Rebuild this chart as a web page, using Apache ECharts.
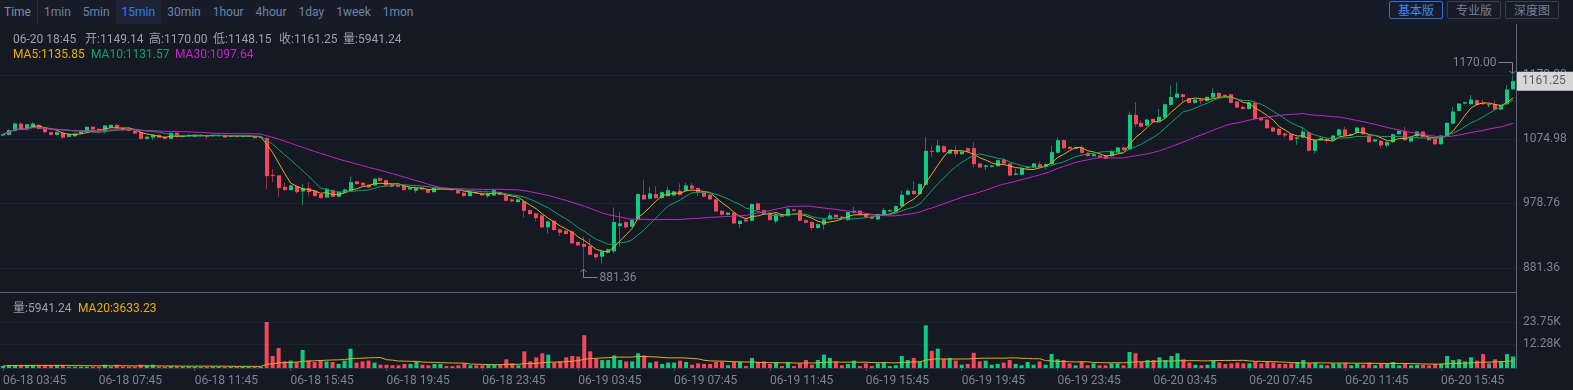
<!DOCTYPE html>
<html><head><meta charset="utf-8">
<script src="https://cdn.jsdelivr.net/npm/echarts@6/dist/echarts.min.js"></script>
<style>
html,body{margin:0;padding:0;background:#151924;overflow:hidden;}
#wrap{position:relative;width:1573px;height:390px;}
#c{position:absolute;left:0;top:0;width:1573px;height:390px;}
#tb{position:absolute;left:0;top:0;width:1573px;height:24px;background:#181c28;display:flex;align-items:stretch;font:12px Roboto,"Noto Sans CJK SC",sans-serif;z-index:2;}
#tb span{padding:0 6px;line-height:24px;color:#6c84a6;}
#tb span.first{padding-left:4px;color:#848c9c;}
#tb span.on{color:#2f7cf6;background:#1f2536;}
#tb i{display:block;width:1px;background:#272c3b;}
.btn{position:absolute;top:1px;height:16px;width:52px;border:1px solid #363e51;border-radius:2px;color:#76808f;font:12px "Noto Sans CJK SC",sans-serif;line-height:16px;text-align:center;z-index:3;}
.btn.on{border-color:#2c6fd8;color:#3b87ff;}
</style>
</head><body>
<div id="wrap">
<div id="c"></div>
<div id="tb"></div>
<div class="btn on" style="left:1389px">基本版</div>
<div class="btn" style="left:1447px">专业版</div>
<div class="btn" style="left:1505px">深度图</div>
</div>
<script>
// ---------------- data ----------------
const periods = ["Time","1min","5min","15min","30min","1hour","4hour","1day","1week","1mon"];
const activePeriod = "15min";
const startTime = "06-18 03:45"; // first bar, 15-minute bars

const opens = [
1079.9,1080.9,1086.9,1097.8,1088.9,1092.9,1095.8,1090.9,1084.9,1080.9,
1083.9,1077.9,1078.9,1082.9,1085.9,1092.9,1089.9,1085.9,1091.9,1095.8,
1090.9,1089.9,1086.9,1084.9,1075.0,1076.9,1080.9,1077.9,1075.0,1083.9,
1077.9,1078.9,1077.9,1078.9,1079.9,1078.9,1078.9,1080.9,1077.9,1079.9,
1077.9,1078.9,1078.9,1076.9,1076.0,1021.2,1020.2,1003.3,998.3,1004.3,
996.3,1001.3,997.3,992.3,987.3,998.3,988.3,994.3,997.3,1011.2,
1009.3,1006.3,1005.3,1016.2,1013.2,1007.3,1006.3,1005.3,999.3,997.3,
1002.3,999.3,995.3,1000.3,1001.8,1000.3,998.3,994.3,989.3,995.3,
993.3,989.3,990.3,995.3,990.3,984.4,980.4,981.4,968.4,963.5,
960.5,942.6,952.5,939.6,937.6,936.6,920.7,917.7,914.7,902.7,
898.8,904.7,906.7,944.5,950.5,943.6,953.5,991.3,985.4,992.3,
986.4,989.3,990.3,997.3,997.3,1005.3,1001.3,994.3,991.3,984.4,
967.4,961.5,964.5,947.5,954.5,952.5,978.4,968.4,964.5,951.5,
962.5,959.5,969.4,968.4,953.5,950.5,941.6,946.5,954.5,961.5,
958.5,953.5,964.5,967.4,962.5,958.5,954.5,961.5,966.4,966.4,
974.4,991.3,997.3,992.3,1006.3,1057.0,1055.0,1064.0,1053.0,1057.0,
1052.0,1061.0,1061.0,1038.1,1033.1,1033.1,1034.1,1044.1,1038.1,1021.2,
1021.2,1031.1,1032.1,1037.1,1033.1,1037.1,1054.0,1073.0,1063.0,1060.0,
1062.0,1054.0,1049.1,1050.1,1050.1,1049.1,1055.0,1062.0,1059.0,1110.8,
1098.8,1094.9,1104.8,1100.8,1106.8,1125.7,1136.7,1141.6,1135.7,1128.7,
1133.7,1131.7,1136.7,1143.6,1140.6,1141.6,1130.7,1122.7,1119.7,1128.7,
1106.8,1103.8,1091.9,1089.9,1082.9,1081.9,1075.0,1076.9,1084.9,1057.0,
1073.0,1075.0,1073.0,1079.9,1088.9,1079.9,1083.9,1091.9,1078.9,1071.0,
1072.0,1065.0,1070.0,1081.9,1086.9,1071.0,1078.9,1085.9,1076.9,1075.0,
1067.0,1078.9,1097.8,1116.7,1127.7,1126.7,1132.7,1128.7,1126.7,1126.7,
1118.7,1126.7,1149.14];

const closes = [
1081.9,1087.9,1097.8,1088.9,1096.8,1097.8,1089.9,1084.9,1080.9,1084.9,
1076.9,1081.9,1082.9,1085.9,1092.9,1088.9,1085.9,1094.9,1095.8,1090.9,
1087.9,1086.9,1082.9,1075.0,1077.9,1080.9,1076.9,1075.0,1083.9,1077.9,
1079.9,1080.9,1079.9,1080.9,1077.9,1080.9,1080.9,1076.9,1079.9,1077.9,
1079.9,1079.9,1076.0,1077.9,1019.2,1020.2,1001.3,998.3,1005.3,995.3,
1001.3,995.3,989.3,986.4,1000.3,988.3,995.3,999.3,1010.2,1007.3,
1005.3,1002.3,1015.2,1012.2,1005.3,1003.3,1003.3,998.3,1002.3,1001.3,
999.3,994.3,1001.3,1002.3,1000.3,998.3,993.3,989.3,996.3,993.3,
990.3,993.3,998.3,991.3,982.4,981.4,984.4,967.4,962.5,956.5,
942.6,951.5,938.6,934.6,932.6,918.7,915.7,913.7,901.7,897.8,
906.7,909.7,950.5,948.5,942.6,953.5,992.3,984.4,993.3,986.4,
995.3,998.3,996.3,991.3,1005.3,1000.3,995.3,988.3,984.4,966.4,
961.5,964.5,948.5,952.5,951.5,977.4,968.4,962.5,953.5,962.5,
958.5,970.4,967.4,952.5,949.5,941.6,947.5,954.5,960.5,957.5,
955.5,965.5,967.4,961.5,957.5,955.5,962.5,968.4,968.4,974.4,
991.3,997.3,992.3,1007.3,1057.0,1056.0,1065.0,1055.0,1058.0,1052.0,
1056.0,1056.0,1037.1,1032.1,1035.1,1035.1,1043.1,1038.1,1020.2,1023.2,
1031.1,1033.1,1038.1,1032.1,1037.1,1055.0,1073.0,1061.0,1060.0,1062.0,
1054.0,1049.1,1052.0,1047.1,1045.1,1057.0,1062.0,1058.0,1110.8,1096.8,
1092.9,1103.8,1099.8,1107.8,1126.7,1137.6,1142.6,1137.6,1128.7,1133.7,
1131.7,1137.6,1143.6,1137.6,1139.6,1128.7,1121.7,1119.7,1129.7,1104.8,
1102.8,1090.9,1085.9,1080.9,1079.9,1073.0,1076.9,1085.9,1057.0,1073.0,
1076.0,1072.0,1079.9,1088.9,1079.9,1081.9,1091.9,1081.9,1070.0,1074.0,
1065.0,1070.0,1081.9,1086.9,1073.0,1077.9,1085.9,1077.9,1073.0,1067.0,
1079.9,1098.8,1115.8,1127.7,1129.7,1133.7,1125.7,1126.7,1126.7,1118.7,
1125.7,1148.6,1161.25];

const lows = [
1078.9,1079.9,1085.9,1087.9,1087.9,1091.9,1088.9,1083.9,1079.9,1079.9,
1075.0,1076.9,1077.9,1081.9,1084.9,1087.9,1084.9,1082.9,1090.9,1089.9,
1086.9,1085.9,1081.9,1074.0,1074.0,1073.0,1075.9,1074.0,1074.0,1076.9,
1076.9,1077.9,1076.9,1077.9,1074.0,1078.4,1078.4,1076.4,1077.4,1077.4,
1077.4,1078.4,1075.5,1076.4,1000.3,1010.2,988.3,997.3,997.3,993.3,
975.4,989.3,988.3,985.4,986.4,987.3,987.3,993.3,996.3,1006.3,
1004.3,1001.3,1004.3,1011.2,1004.3,1002.3,1002.3,997.3,998.3,994.3,
998.3,993.3,994.3,999.3,999.3,997.3,992.3,988.3,988.3,992.3,
989.3,986.4,989.3,990.3,981.4,980.4,979.4,957.5,961.5,951.5,
941.6,933.6,937.6,929.6,931.6,917.7,914.7,881.36,900.7,894.8,
888.8,903.7,903.7,913.7,941.6,942.6,952.5,983.4,984.4,985.4,
985.4,988.3,989.3,990.3,996.3,999.3,989.3,987.3,983.4,965.5,
960.5,960.5,947.5,941.6,950.5,951.5,967.4,961.5,952.5,948.5,
957.5,958.5,966.4,951.5,948.5,937.6,940.6,939.6,953.5,956.5,
954.5,952.5,963.5,960.5,956.5,954.5,953.5,960.5,965.5,965.5,
973.4,990.3,991.3,991.3,1005.3,1047.1,1054.0,1054.0,1052.0,1048.1,
1051.0,1055.0,1032.1,1031.1,1028.2,1032.1,1033.1,1037.1,1019.2,1020.2,
1020.2,1030.1,1031.1,1031.1,1029.2,1036.1,1053.0,1060.0,1059.0,1059.0,
1053.0,1048.1,1048.1,1046.1,1044.1,1048.1,1054.0,1057.0,1058.0,1092.9,
1091.9,1093.9,1098.8,1099.8,1105.8,1124.7,1135.7,1130.7,1127.7,1127.7,
1126.7,1130.7,1135.7,1136.7,1138.6,1127.7,1120.7,1118.7,1118.7,1103.8,
1101.8,1089.9,1084.9,1079.9,1076.9,1072.0,1066.0,1075.9,1056.0,1053.0,
1072.0,1068.0,1072.0,1078.9,1078.9,1078.9,1082.9,1080.9,1069.0,1070.0,
1061.0,1062.0,1069.0,1080.9,1072.0,1070.0,1077.9,1076.9,1072.0,1066.0,
1066.0,1077.9,1096.8,1115.8,1126.7,1125.7,1124.7,1125.7,1122.7,1117.7,
1117.7,1125.7,1148.15];

const highs = [
1082.4,1088.9,1099.3,1099.8,1097.8,1099.8,1097.3,1091.9,1085.9,1085.9,
1084.9,1082.9,1083.9,1086.9,1093.9,1094.4,1090.9,1095.8,1096.8,1097.3,
1091.9,1090.9,1087.9,1085.9,1078.9,1081.9,1081.9,1078.9,1084.9,1084.9,
1080.9,1081.9,1080.9,1081.9,1080.9,1081.4,1081.4,1081.4,1080.4,1080.4,
1080.4,1080.4,1079.4,1078.9,1077.9,1029.6,1021.2,1009.3,1006.3,1005.3,
1007.3,1010.2,998.3,993.3,1001.3,999.3,996.3,1000.3,1018.2,1012.2,
1010.2,1007.3,1016.2,1017.2,1014.2,1008.3,1007.3,1006.3,1003.3,1002.3,
1003.3,1000.3,1002.3,1003.3,1002.8,1001.3,999.3,995.3,997.3,996.3,
994.3,994.3,999.3,996.3,991.3,985.4,985.4,982.4,969.4,964.5,
961.5,952.5,953.5,940.6,938.6,937.6,921.7,928.6,925.6,903.7,
907.7,910.7,972.4,965.5,951.5,954.5,993.3,1014.2,1003.3,1004.3,
996.3,1003.3,997.3,1008.3,1009.3,1009.3,1002.3,995.3,992.3,985.4,
968.4,965.5,965.5,953.5,955.5,978.4,979.4,969.4,965.5,963.5,
963.5,971.4,970.4,969.4,954.5,951.5,948.5,955.5,965.5,962.5,
959.5,966.5,973.4,968.4,963.5,959.5,963.5,971.4,969.4,975.4,
997.3,1000.3,1011.2,1008.3,1077.9,1065.0,1073.0,1065.0,1059.0,1065.0,
1057.0,1062.0,1070.0,1039.1,1036.1,1036.1,1044.1,1047.1,1039.1,1030.1,
1032.1,1034.1,1039.1,1041.1,1038.1,1065.0,1076.9,1074.0,1064.0,1063.0,
1066.0,1055.0,1053.0,1051.0,1051.0,1058.0,1063.0,1063.0,1115.8,1129.7,
1102.8,1104.8,1105.8,1119.7,1127.7,1154.6,1159.6,1142.6,1136.7,1134.7,
1134.7,1138.6,1150.6,1144.6,1141.6,1142.6,1131.7,1123.7,1130.7,1132.7,
1107.8,1104.8,1092.9,1090.9,1083.9,1082.9,1077.9,1092.9,1085.9,1074.0,
1077.0,1076.0,1080.9,1089.9,1092.9,1082.9,1092.9,1092.9,1079.9,1075.0,
1073.0,1071.0,1082.9,1087.9,1092.9,1078.9,1086.9,1086.9,1077.9,1076.0,
1080.9,1099.8,1122.7,1128.7,1130.7,1140.6,1133.7,1133.7,1127.7,1132.7,
1126.7,1155.6,1170.00];

// volume in thousands
const volumes = [
1.0,1.4,1.4,1.4,1.4,1.4,1.4,1.4,1.4,1.4,
1.4,0.7,0.7,0.7,0.7,0.7,0.7,1.7,0.7,1.7,
0.7,0.7,0.7,1.7,1.4,1.7,0.7,0.7,1.0,1.0,
0.7,0.7,0.7,0.7,0.7,0.7,0.7,0.7,0.7,0.7,
0.7,0.7,0.7,0.7,23.75,6.2,10.3,3.4,3.8,3.1,
9.3,3.8,3.1,4.1,3.4,3.1,2.1,3.8,10.0,2.8,
3.4,3.8,2.8,1.7,1.7,1.4,1.4,2.1,2.1,3.1,
1.7,1.4,2.1,2.1,1.0,1.0,1.4,2.4,1.4,1.4,
1.4,1.7,1.7,1.7,4.5,2.4,1.4,8.6,3.4,5.5,
7.6,6.9,2.8,3.4,5.5,6.2,5.9,16.9,8.6,4.8,
4.1,4.1,6.5,4.1,3.4,3.4,7.6,6.5,2.8,3.4,
2.1,2.8,2.8,3.8,3.1,1.7,2.4,2.1,2.1,3.1,
3.1,1.4,3.1,3.1,1.0,5.2,3.1,3.4,2.1,3.1,
1.0,3.1,1.0,2.4,4.1,1.7,4.1,6.9,5.2,3.4,
1.4,2.1,3.8,1.0,2.4,1.0,2.4,3.1,1.0,1.4,
6.2,4.1,5.2,3.1,22.0,8.9,10.0,4.8,5.2,3.8,
1.7,2.1,7.9,3.4,3.8,1.7,2.1,2.8,4.1,2.1,
1.4,3.1,1.7,3.4,1.7,7.2,4.5,4.1,2.4,1.4,
3.4,1.4,2.4,1.4,1.4,2.4,2.4,1.4,8.3,7.6,
3.1,4.1,4.1,5.5,4.1,6.2,7.6,4.5,2.8,1.7,
1.4,1.7,4.1,2.8,2.1,2.4,2.8,2.4,2.4,3.1,
2.4,3.1,2.8,2.1,2.1,2.4,3.1,4.1,2.4,2.8,
1.7,1.4,2.4,2.4,2.8,1.4,2.4,1.7,2.8,1.4,
2.1,2.4,3.1,1.4,2.4,1.4,1.7,1.7,1.4,2.1,
2.1,6.2,4.1,4.5,3.4,5.5,3.8,7.2,2.4,4.5,
3.4,7.2,5.94124];

const priceTicks = [881.36, 978.76, 1074.98, 1170.00];
const volumeTicks = [12.28, 23.75];
const headerText = "06-20 18:45";
const headerItems = ["开:1149.14","高:1170.00","低:1148.15","收:1161.25","量:5941.24"];
const maLegend = [["MA5","1135.85"],["MA10","1131.57"],["MA30","1097.64"]];
const volLegend = ["量:5941.24", "MA20:3633.23"];

// ---------------- style ----------------
const UP = '#0ecb81', DOWN = '#f6465d', UPW = '#0c8558', DOWNW = '#9b3244', FLAT = '#7b8394';
const MA5C = '#e8ae0c', MA10C = '#11a06c', MA30C = '#c226c4';
const AX = '#7c8394';
const FONT = 'Roboto, "Noto Sans CJK SC", sans-serif';

// toolbar
const tb = document.getElementById('tb');
periods.forEach((p, i) => {
  const s = document.createElement('span');
  s.textContent = p;
  if (i === 0) s.className = 'first';
  if (p === activePeriod) s.className = 'on';
  tb.appendChild(s);
  if (i === 0) tb.appendChild(document.createElement('i'));
});

// categories: consecutive 15-minute bars
function pad(n){ return (n < 10 ? '0' : '') + n; }
const times = [];
(function(){
  const m = startTime.match(/(\d+)-(\d+) (\d+):(\d+)/);
  const t0 = Date.UTC(2024, +m[1]-1, +m[2], +m[3], +m[4]);
  for (let i = 0; i < opens.length; i++) {
    const d = new Date(t0 + i*15*60000);
    times.push(pad(d.getUTCMonth()+1)+'-'+pad(d.getUTCDate())+' '+pad(d.getUTCHours())+':'+pad(d.getUTCMinutes()));
  }
})();

function movingAverage(arr, n){
  return arr.map((_, i) => {
    const s = Math.max(0, i-n+1); let sum = 0;
    for (let j = s; j <= i; j++) sum += arr[j];
    return +(sum/(i-s+1)).toFixed(2);
  });
}
const ma5 = movingAverage(closes, 5), ma10 = movingAverage(closes, 10), ma30 = movingAverage(closes, 30);
const vma20 = movingAverage(volumes, 20);

const candleData = opens.map((o, i) => [i, o, closes[i], lows[i], highs[i]]);
function dirColor(i){ return closes[i] > opens[i] ? UP : (closes[i] < opens[i] ? DOWN : FLAT); }
const volData = volumes.map((v, i) => ({ value: v, itemStyle: { color: dirColor(i) } }));

// axis extents (price grid 23..292 px, volume grid 292..368 px)
const PRICE_MIN = 845.92, PRICE_MAX = 1248.2;
const VOL_MAX = 39.24;

const chart = echarts.init(document.getElementById('c'), null, {renderer: 'canvas'});

const option = {
  animation: false,
  backgroundColor: '#151924',
  textStyle: { fontFamily: FONT },
  grid: [
    { left: -3, right: 57, top: 23, height: 269 },
    { left: -3, right: 57, top: 292, height: 76 }
  ],
  xAxis: [
    { type: 'category', gridIndex: 0, data: times, boundaryGap: true,
      axisLine: { show: true, lineStyle: { color: '#5e6576' } },
      axisTick: { show: false }, axisLabel: { show: false }, splitLine: { show: false } },
    { type: 'category', gridIndex: 1, data: times, boundaryGap: true,
      axisLine: { show: true, lineStyle: { color: '#2a2f3d' } },
      axisTick: { show: true, interval: 15, alignWithLabel: true, length: 3, lineStyle: { color: '#464c5c' } },
      axisLabel: { interval: 15, align: 'left', color: AX, fontSize: 12, margin: 7, fontFamily: FONT },
      splitLine: { show: false } }
  ],
  yAxis: [
    { type: 'value', gridIndex: 0, position: 'right', min: PRICE_MIN, max: PRICE_MAX, scale: true,
      axisLine: { show: true, lineStyle: { color: '#5e6576' } },
      axisTick: { show: false, customValues: priceTicks },
      axisLabel: { customValues: priceTicks, color: AX, fontSize: 12, margin: 7, fontFamily: FONT,
        formatter: v => v.toFixed(2) },
      splitLine: { show: true, lineStyle: { color: '#1d2230' } } },
    { type: 'value', gridIndex: 1, position: 'right', min: 0, max: VOL_MAX,
      axisLine: { show: true, lineStyle: { color: '#5e6576' } },
      axisTick: { show: false, customValues: volumeTicks },
      axisLabel: { customValues: volumeTicks, color: AX, fontSize: 12, margin: 7, fontFamily: FONT,
        formatter: v => v.toFixed(2) + 'K' },
      splitLine: { show: true, lineStyle: { color: '#1d2230' } } }
  ],
  series: [
    { type: 'custom', name: 'K', xAxisIndex: 0, yAxisIndex: 0, clip: true, z: 2,
      data: candleData, encode: { x: 0, y: [1, 2, 3, 4] },
      renderItem: function (params, api) {
        const i = api.value(0), o = api.value(1), c = api.value(2), l = api.value(3), h = api.value(4);
        const po = api.coord([i, o]), pc = api.coord([i, c]);
        const pl = api.coord([i, l]), ph = api.coord([i, h]);
        const x = Math.round(po[0]);
        const up = c > o, dn = c < o;
        const body = up ? UP : (dn ? DOWN : FLAT);
        const wick = up ? UPW : (dn ? DOWNW : FLAT);
        const top = Math.min(po[1], pc[1]);
        const bh = Math.max(Math.abs(po[1] - pc[1]), 1);
        return { type: 'group', children: [
          { type: 'line', shape: { x1: x - 0.5, y1: ph[1], x2: x - 0.5, y2: pl[1] }, style: { stroke: wick, lineWidth: 1 } },
          { type: 'rect', shape: { x: x - 2, y: top, width: 4, height: bh }, style: { fill: body } }
        ]};
      }
    },
    { type: 'line', name: 'MA5', data: ma5, xAxisIndex: 0, yAxisIndex: 0, symbol: 'none', z: 3,
      lineStyle: { width: 1, color: MA5C }, itemStyle: { color: MA5C },
      markLine: { silent: true, symbol: 'none', animation: false,
        data: [{ yAxis: closes[closes.length - 1] }],
        lineStyle: { color: 'rgba(0,0,0,0)', width: 1 },
        label: { show: true, position: 'end', distance: 1, formatter: closes[closes.length - 1].toFixed(2),
          backgroundColor: '#d6d6d6', color: '#5d5d5d', fontSize: 12, fontFamily: FONT,
          padding: [4, 14, 3, 5] } } },
    { type: 'line', name: 'MA10', data: ma10, xAxisIndex: 0, yAxisIndex: 0, symbol: 'none', z: 3,
      lineStyle: { width: 1, color: MA10C } },
    { type: 'line', name: 'MA30', data: ma30, xAxisIndex: 0, yAxisIndex: 0, symbol: 'none', z: 3,
      lineStyle: { width: 1, color: MA30C } },
    { type: 'bar', name: 'VOL', data: volData, xAxisIndex: 1, yAxisIndex: 1, barWidth: 4, z: 2 },
    { type: 'line', name: 'MA20', data: vma20, xAxisIndex: 1, yAxisIndex: 1, symbol: 'none', z: 3,
      lineStyle: { width: 1, color: MA5C } }
  ]
};
chart.setOption(option);

// ---------------- header texts and extreme-price annotations ----------------
const graphics = [];
const hdrX = [85, 149, 213, 279, 343];
graphics.push({ type: 'text', left: 13, top: 34, style: { text: headerText, fill: '#9aa1ae', font: '12px ' + FONT } });
headerItems.forEach((t, k) => graphics.push({ type: 'text', left: hdrX[k], top: 34, style: { text: t, fill: '#9aa1ae', font: '12px ' + FONT } }));
const maX = [13, 91, 175], maCol = [MA5C, MA10C, MA30C];
maLegend.forEach((m, k) => graphics.push({ type: 'text', left: maX[k], top: 49, style: { text: m[0] + ':' + m[1], fill: maCol[k], font: '12px ' + FONT } }));
graphics.push({ type: 'text', left: 13, top: 303, style: { text: volLegend[0], fill: '#9aa1ae', font: '12px ' + FONT } });
graphics.push({ type: 'text', left: 78, top: 303, style: { text: volLegend[1], fill: MA5C, font: '12px ' + FONT } });

let hiI = 0, loI = 0;
highs.forEach((v, i) => { if (v > highs[hiI]) hiI = i; });
lows.forEach((v, i) => { if (v < lows[loI]) loI = i; });
const hp = chart.convertToPixel({ xAxisIndex: 0, yAxisIndex: 0 }, [hiI, highs[hiI]]);
const lp = chart.convertToPixel({ xAxisIndex: 0, yAxisIndex: 0 }, [loI, lows[loI]]);
const NOTE = '#7d8596';
const hx = Math.round(hp[0]) - 0.5, hy = Math.round(hp[1]);
graphics.push({ type: 'polyline', shape: { points: [[hx - 14, hy - 12.5], [hx, hy - 12.5], [hx, hy - 1]] }, style: { stroke: NOTE, lineWidth: 1, fill: null } });
graphics.push({ type: 'polyline', shape: { points: [[hx - 3, hy - 4], [hx, hy - 1], [hx + 3, hy - 4]] }, style: { stroke: NOTE, lineWidth: 1, fill: null } });
graphics.push({ type: 'text', x: hx - 16, y: hy - 12.5, style: { text: highs[hiI].toFixed(2), fill: NOTE, font: '12px ' + FONT, textAlign: 'right', textVerticalAlign: 'middle' } });
const lx = Math.round(lp[0]) - 0.5, ly = Math.round(lp[1]);
graphics.push({ type: 'polyline', shape: { points: [[lx, ly + 1], [lx, ly + 9.5], [lx + 14, ly + 9.5]] }, style: { stroke: NOTE, lineWidth: 1, fill: null } });
graphics.push({ type: 'polyline', shape: { points: [[lx - 3, ly + 4], [lx, ly + 1], [lx + 3, ly + 4]] }, style: { stroke: NOTE, lineWidth: 1, fill: null } });
graphics.push({ type: 'text', x: lx + 16, y: ly + 9.5, style: { text: lows[loI].toFixed(2), fill: NOTE, font: '12px ' + FONT, textAlign: 'left', textVerticalAlign: 'middle' } });

chart.setOption({ graphic: graphics });
</script>
</body></html>
